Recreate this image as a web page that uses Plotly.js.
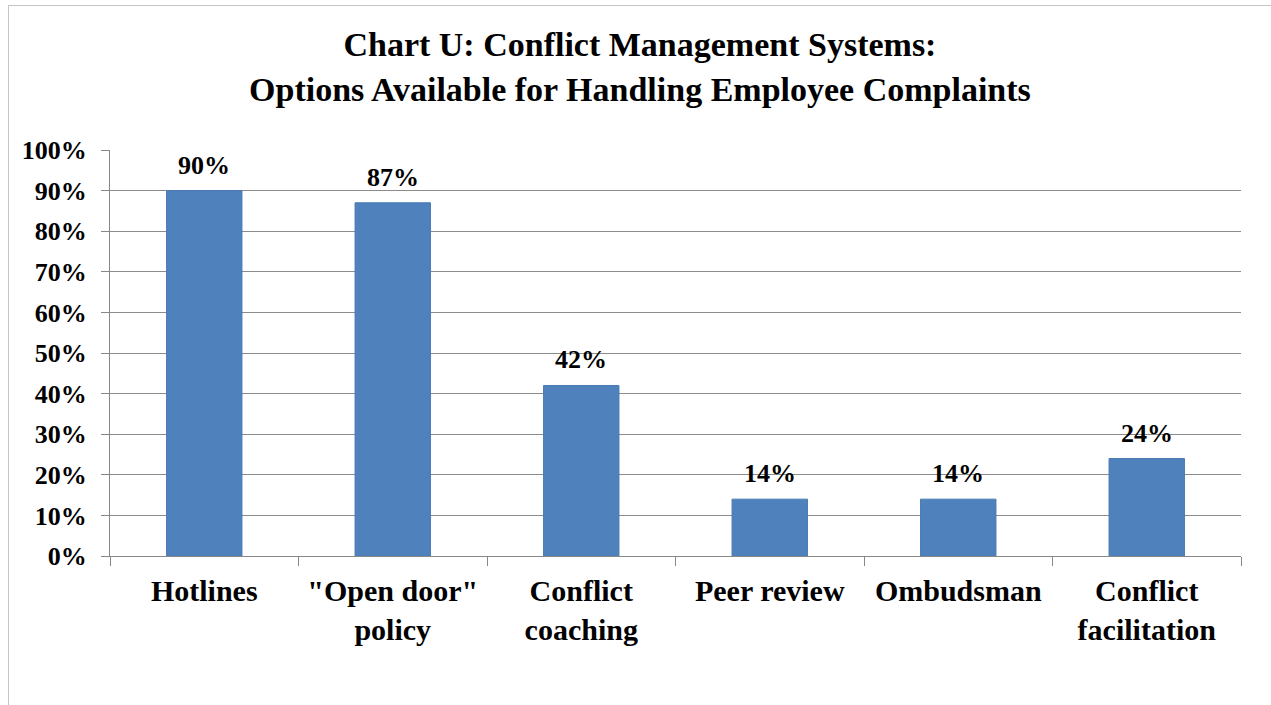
<!DOCTYPE html>
<html><head><meta charset="utf-8">
<script src="https://cdn.plot.ly/plotly-3.0.1.min.js"></script>
<style>
html,body{margin:0;padding:0;overflow:hidden;background:#fff;}
#frame{position:absolute;left:8px;top:5px;width:2000px;height:2000px;border-left:1px solid #c4c4c4;border-top:1px solid #c4c4c4;pointer-events:none;}
#chart{position:absolute;left:0;top:0;width:1271px;height:705px;}
</style></head>
<body>
<div id="chart"></div>
<div id="frame"></div>
<script>
const categories = ["Hotlines", "\"Open door\"<br>policy", "Conflict<br>coaching", "Peer review", "Ombudsman", "Conflict<br>facilitation"];
const values = [90, 87, 42, 14, 14, 24];
const valueLabels = ["90%", "87%", "42%", "14%", "14%", "24%"];
const yTickVals = [0,10,20,30,40,50,60,70,80,90,100];
const yTickText = ["0%","10%","20%","30%","40%","50%","60%","70%","80%","90%","100%"];

const F = "Liberation Serif, Times New Roman, serif";
const trace = {
  type: "bar", x: categories, y: values,
  marker: {color: "#4F81BD", line: {color: "#4A7AB3", width: 1}},
  hoverinfo: "none"
};
const annotations = categories.map((c, i) => ({
  x: c, y: values[i], xref: "x", yref: "y", text: "<b>" + valueLabels[i] + "</b>",
  showarrow: false, yanchor: "bottom", yshift: 9,
  font: {family: F, size: 26, color: "#000"}
}));
const layout = {
  width: 1271, height: 705,
  margin: {l: 110, r: 30, t: 150, b: 149},
  paper_bgcolor: "rgba(0,0,0,0)", plot_bgcolor: "#fff",
  showlegend: false, bargap: 0.6,
  title: {text: "<b>Chart U: Conflict Management Systems:<br>Options Available for Handling Employee Complaints</b>",
    x: 0.5035, xref: "container", y: 0.92, yanchor: "top",
    font: {family: F, size: 34, color: "#000"}},
  xaxis: {type: "category", showline: true, linecolor: "#888", linewidth: 1,
    ticks: "outside", tickson: "boundaries", ticklen: 9, tickcolor: "#888",
    showgrid: false, tickfont: {family: F, size: 30, color: "#000"},
    tickprefix: "<b>", ticksuffix: "</b>", ticklabelstandoff: 8},
  yaxis: {range: [0, 100], tickvals: yTickVals, ticktext: yTickText.map(t => "<b>" + t + "</b>"),
    showline: true, linecolor: "#888", linewidth: 1, ticks: "outside", ticklen: 8, tickcolor: "#888",
    showgrid: true, gridcolor: "#8c8c8c", gridwidth: 1, zeroline: false,
    tickfont: {family: F, size: 26, color: "#000"}, ticklabelstandoff: 9},
  annotations: annotations
};
Plotly.newPlot("chart", [trace], layout, {staticPlot: true});
</script>
</body></html>
